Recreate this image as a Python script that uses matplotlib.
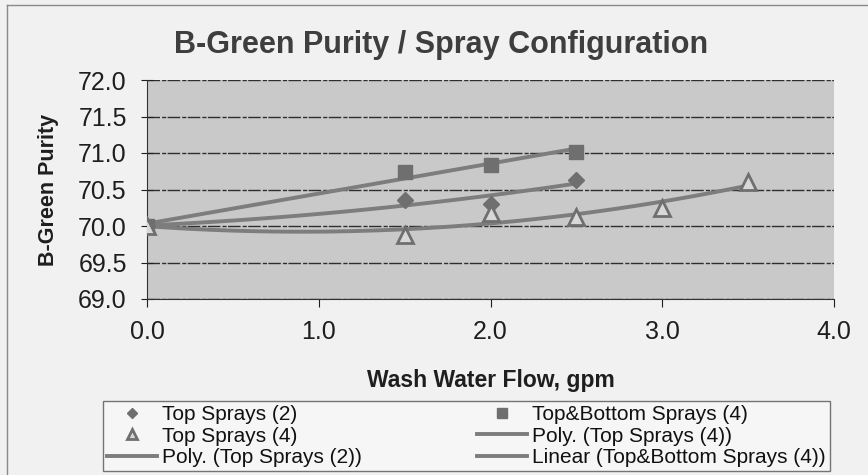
import numpy as np
import matplotlib
matplotlib.use("Agg")
import matplotlib.pyplot as plt
from matplotlib.lines import Line2D

plt.rcParams["font.family"] = ["Liberation Sans", "DejaVu Sans"]

# data
top2_x = [0.0, 1.5, 2.0, 2.5]
top2_y = [70.0, 70.36, 70.3, 70.63]
top4_x = [0.0, 1.5, 2.0, 2.5, 3.0, 3.5]
top4_y = [70.0, 69.88, 70.18, 70.13, 70.25, 70.6]
tb4_x = [0.0, 1.5, 2.0, 2.5]
tb4_y = [70.0, 70.74, 70.84, 71.02]

x_ticks = [0.0, 1.0, 2.0, 3.0, 4.0]
y_ticks = [69.0, 69.5, 70.0, 70.5, 71.0, 71.5, 72.0]

line_col = "#7d7d7d"
mark_col = "#6f6f6f"

fig = plt.figure(figsize=(8.68, 4.75), dpi=100)
fig.patch.set_facecolor("#f1f1f1")
ax = fig.add_axes([147 / 868, 1 - 299 / 475, 687 / 868, 219 / 475])
ax.set_facecolor("#c9c9c9")

# scan frame edges
fig.add_artist(Line2D([7 / 868, 7 / 868], [0, 1 - 5 / 475],
                      color="#8a8a8a", lw=1))
fig.add_artist(Line2D([7 / 868, 1], [1 - 5 / 475, 1 - 5 / 475],
                      color="#8a8a8a", lw=1))

# trendlines (excel style: poly order 2 and linear)
p2 = np.polyfit(top2_x, top2_y, 2)
xs2 = np.linspace(0, max(top2_x), 100)
p4 = np.polyfit(top4_x, top4_y, 2)
xs4 = np.linspace(0, max(top4_x), 100)
pl = np.polyfit(tb4_x, tb4_y, 1)
xsl = np.linspace(0, max(tb4_x), 100)

h_ts2, = ax.plot(top2_x, top2_y, linestyle="none", marker="D", ms=8,
                 color=mark_col, label="Top Sprays (2)", zorder=4)
h_tb4, = ax.plot(tb4_x, tb4_y, linestyle="none", marker="s", ms=10,
                 color=mark_col, label="Top&Bottom Sprays (4)", zorder=4)
h_ts4, = ax.plot(top4_x, top4_y, linestyle="none", marker="^", ms=11,
                 mfc="#d8d8d8", mec=mark_col, mew=2,
                 label="Top Sprays (4)", zorder=4)
h_p4, = ax.plot(xs4, np.polyval(p4, xs4), color=line_col, lw=2.8,
                label="Poly. (Top Sprays (4))", zorder=3)
h_p2, = ax.plot(xs2, np.polyval(p2, xs2), color=line_col, lw=2.8,
                label="Poly. (Top Sprays (2))", zorder=3)
h_l, = ax.plot(xsl, np.polyval(pl, xsl), color=line_col, lw=2.8,
               label="Linear (Top&Bottom Sprays (4))", zorder=3)

ax.set_xlim(0, 4.0)
ax.set_ylim(69.0, 72.0)
ax.set_xticks(x_ticks)
ax.set_xticklabels([f"{v:.1f}" for v in x_ticks])
ax.set_yticks(y_ticks)
ax.set_yticklabels([f"{v:.1f}" for v in y_ticks])
ax.tick_params(axis="both", labelsize=18, colors="#1e1e1e")
ax.tick_params(axis="x", pad=9, length=6, direction="out")
ax.tick_params(axis="y", pad=10, length=9, direction="inout")
ax.grid(axis="y", color="#2e2e2e", lw=1.0, linestyle=(0, (9, 1.5, 3, 1)))
ax.set_axisbelow(True)
for s in ["top", "right"]:
    ax.spines[s].set_visible(False)
ax.spines["left"].set_color("#333333")
ax.spines["bottom"].set_color("#333333")

fig.text(0.508, 0.905, "B-Green Purity / Spray Configuration", ha="center",
         va="center", fontsize=22, fontweight="bold", color="#3e3e3e")
ax.set_ylabel("B-Green Purity", fontsize=15.5, fontweight="bold",
              color="#1e1e1e", labelpad=14)
ax.set_xlabel("Wash Water Flow, gpm", fontsize=16.5, fontweight="bold",
              color="#1e1e1e", labelpad=18)

handles = [h_ts2, h_ts4, h_p2, h_tb4, h_p4, h_l]
leg = fig.legend(handles=handles, labels=[h.get_label() for h in handles],
                 loc="upper left", bbox_to_anchor=(103 / 868, 1 - 401 / 475),
                 ncol=2, fontsize=15, frameon=True, fancybox=False,
                 labelspacing=0.12, handlelength=2.4, handletextpad=0.25,
                 columnspacing=5.5, borderpad=0.2, borderaxespad=0,
                 markerscale=0.7)
leg.get_frame().set_edgecolor("#555555")
leg.get_frame().set_facecolor("#f8f8f8")
leg.get_frame().set_linewidth(1.0)
for t in leg.get_texts():
    t.set_color("#111111")

fig.savefig("out.png", dpi=100, facecolor=fig.get_facecolor())
